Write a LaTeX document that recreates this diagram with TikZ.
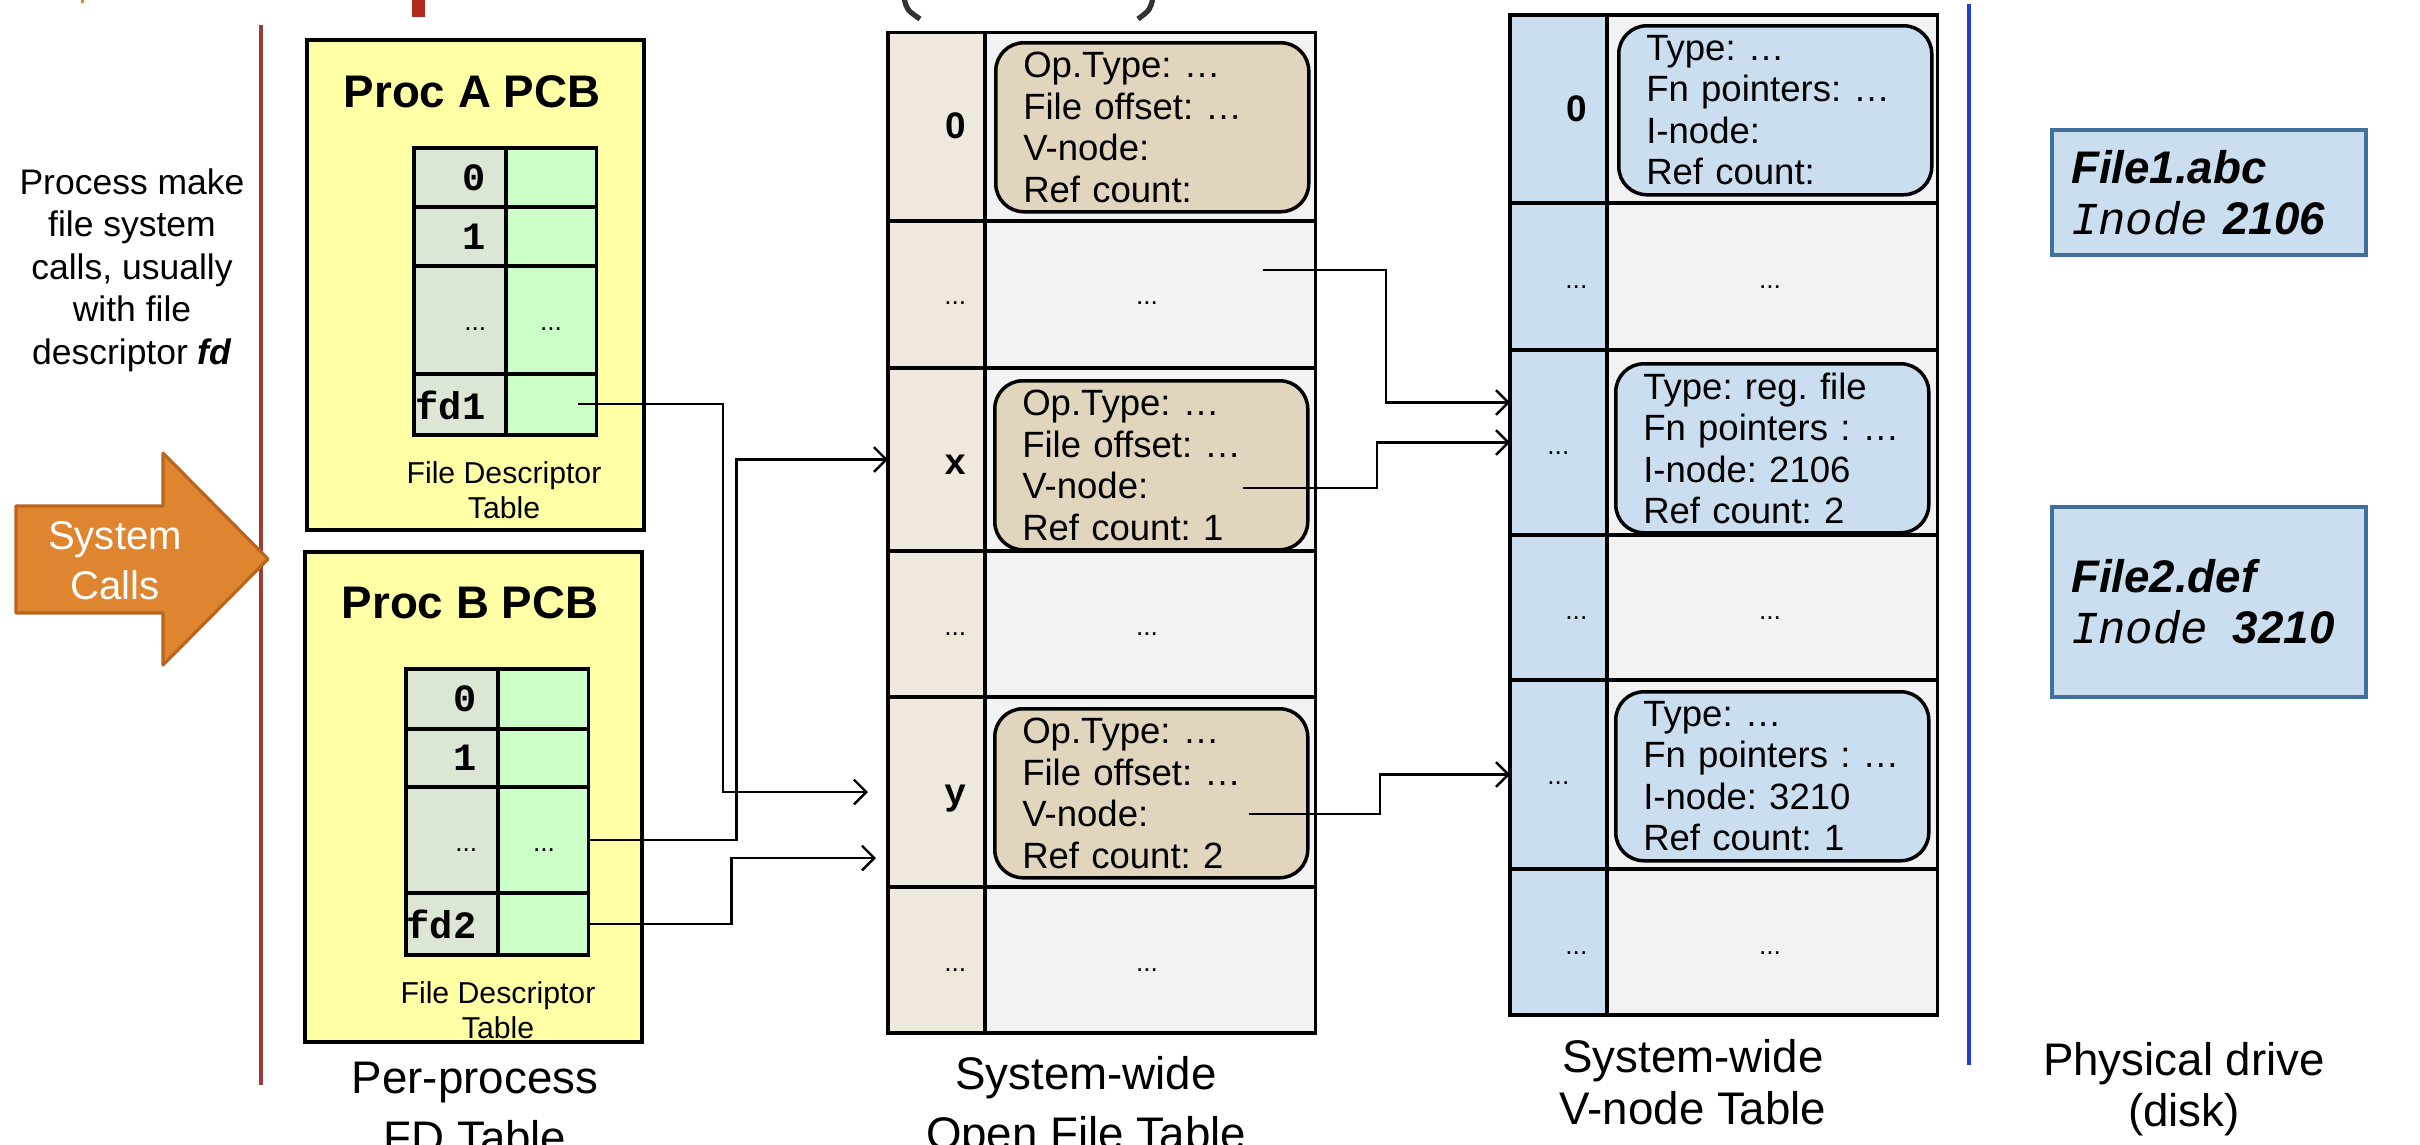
\documentclass[tikz,border=0pt]{standalone}
\usepackage{fontspec}
\setmainfont{Liberation Sans}
\newfontfamily\codefont{Liberation Mono}
\usetikzlibrary{arrows.meta}

\definecolor{pcbyellow}{HTML}{FFFFA6}
\definecolor{fdgrey}{HTML}{DCE6D4}
\definecolor{fdgreen}{HTML}{CCFFC8}
\definecolor{oftbeige}{HTML}{EFE8DC}
\definecolor{cellgrey}{HTML}{F2F2F2}
\definecolor{entrytan}{HTML}{E1D5BE}
\definecolor{vblue}{HTML}{CADEEF}
\definecolor{fileborder}{HTML}{41709C}
\definecolor{callorange}{HTML}{E0852F}
\definecolor{calledge}{HTML}{B8651E}
\definecolor{redline}{HTML}{A0393A}
\definecolor{redbar}{HTML}{B22A1E}
\definecolor{blueline}{HTML}{1E3ED6}
\definecolor{parengrey}{HTML}{333333}

\frenchspacing

\begin{document}
\begin{tikzpicture}[x=0.1mm, y=-0.1mm,
    tcell/.style={draw, line width=1.1pt, anchor=north west, inner sep=0pt, outer sep=0pt},
    fdidx/.style={tcell, fill=fdgrey, minimum width=9.2mm},
    fdval/.style={tcell, fill=fdgreen, minimum width=9.05mm},
    oftidx/.style={tcell, fill=oftbeige, minimum width=9.7mm},
    vidx/.style={tcell, fill=vblue, minimum width=9.7mm},
    tval/.style={tcell, fill=cellgrey, minimum width=33.05mm},
    entry/.style={draw, line width=1pt, rounded corners=8pt, anchor=north west, inner sep=0pt,
      minimum width=31.3mm, minimum height=16.9mm, text width=25.8mm, align=left,
      font=\fontsize{10.4}{11.8}\selectfont},
    pcb/.style={draw, line width=1pt, fill=pcbyellow, anchor=north west, inner sep=0pt,
      minimum width=33.7mm, minimum height=49mm},
    pcbtitle/.style={font=\bfseries\fontsize{13}{15}\selectfont},
    fdnum/.style={anchor=east, inner sep=0pt, font=\codefont\bfseries\fontsize{11}{13}\selectfont},
    tnum/.style={anchor=east, inner sep=0pt, font=\bfseries\fontsize{10.5}{12}\selectfont},
    tletter/.style={anchor=east, inner sep=0pt, font=\codefont\bfseries\fontsize{10.5}{12}\selectfont},
    dots/.style={inner sep=0pt, font=\fontsize{7.5}{9}\selectfont},
    fdnote/.style={align=center, inner sep=0pt, font=\fontsize{8.6}{10}\selectfont},
    tabcap/.style={align=center, inner sep=0pt, font=\fontsize{13}{14.6}\selectfont},
    diskfile/.style={draw=fileborder, line width=1.2pt, fill=vblue, anchor=north west, inner sep=0pt,
      minimum width=31.4mm, text width=27.6mm, align=left, font=\fontsize{13}{14.5}\selectfont},
    callarrow/.style={fill=callorange, draw=calledge, line width=0.9pt, line join=round},
    link/.style={line width=0.7pt, -{Straight Barb[length=3.5pt,width=7pt]}}]

    \useasboundingbox (0,0) rectangle (2420,1144);

    \fill[callorange] (81,0) rectangle (84,2.5);
    \fill[redbar] (412,0) rectangle (425,17);
    \draw[parengrey, line width=1.5pt] (904,-2) .. controls (907,10) .. (920,19);
    \draw[parengrey, line width=1.5pt] (1153,-2) .. controls (1150,10) .. (1138,19);

    \draw[redline, line width=1.2pt] (261,25) -- (261,1085);
    \draw[blueline, line width=1.1pt] (1969,4) -- (1969,1065);

    \node[align=center, inner sep=0pt, font=\fontsize{10.1}{12.1}\selectfont] (procnote) at (132,270)
      {Process make\\file system\\calls, usually\\with file\\descriptor \textbf{\textit{fd}}};

    \filldraw[callarrow] (16,506) -- (163,506) -- (163,453) -- (268,559) -- (163,665) -- (163,613) -- (16,613) -- cycle;
    \node[align=center, text=white, inner sep=0pt, font=\fontsize{11.4}{14.2}\selectfont] (calls) at (115,561) {System\\Calls};

    \node[pcb] (pcbA) at (305,38) {};
    \node[pcb] (pcbB) at (303,550) {};
    \node[pcbtitle] (titleA) at (472,92) {Proc A PCB};
    \node[pcbtitle] (titleB) at (470,603) {Proc B PCB};

    \node[fdidx, minimum height=5.9mm] (fa0) at (414,148) {};
    \node[fdval, minimum height=5.9mm] (fa0v) at (506,148) {};
    \node[fdidx, minimum height=5.9mm] (fa1) at (414,207) {};
    \node[fdval, minimum height=5.9mm] (fa1v) at (506,207) {};
    \node[fdidx, minimum height=10.8mm] (fa2) at (414,266) {};
    \node[fdval, minimum height=10.8mm] (fa2v) at (506,266) {};
    \node[fdidx, minimum height=6.1mm] (fa3) at (414,374) {};
    \node[fdval, minimum height=6.1mm] (fa3v) at (506,374) {};

    \node[fdnum] (na0) at (486,178) {0};
    \node[fdnum] (na1) at (486,237) {1};
    \node[dots, anchor=east] (na2) at (487,329) {...};
    \node[dots] (na2v) at (551,329) {...};
    \node[fdnum] (na3) at (486,405) {fd1};
    \node[fdnote] (notea) at (504,490) {File Descriptor\\Table};

    \node[fdidx, minimum height=6.0mm] (fb0) at (406,669) {};
    \node[fdval, minimum height=6.0mm] (fb0v) at (498,669) {};
    \node[fdidx, minimum height=5.8mm] (fb1) at (406,729) {};
    \node[fdval, minimum height=5.8mm] (fb1v) at (498,729) {};
    \node[fdidx, minimum height=10.6mm] (fb2) at (406,787) {};
    \node[fdval, minimum height=10.6mm] (fb2v) at (498,787) {};
    \node[fdidx, minimum height=6.2mm] (fb3) at (406,893) {};
    \node[fdval, minimum height=6.2mm] (fb3v) at (498,893) {};

    \node[fdnum] (nb0) at (477,699) {0};
    \node[fdnum] (nb1) at (477,758) {1};
    \node[dots, anchor=east] (nb2) at (478,850) {...};
    \node[dots] (nb2v) at (544,850) {...};
    \node[fdnum] (nb3) at (477,924) {fd2};
    \node[fdnote] (noteb) at (498,1010) {File Descriptor\\Table};

    \node[tabcap, font=\fontsize{13}{17}\selectfont] (capfd) at (475,1108) {Per-process\\FD Table};

    \node[oftidx, minimum height=18.85mm] (o0) at (888,32.5) {};
    \node[tval, minimum height=18.85mm] (o0c) at (985,32.5) {};
    \node[oftidx, minimum height=14.7mm] (o1) at (888,221) {};
    \node[tval, minimum height=14.7mm] (o1c) at (985,221) {};
    \node[oftidx, minimum height=18.3mm] (o2) at (888,368) {};
    \node[tval, minimum height=18.3mm] (o2c) at (985,368) {};
    \node[oftidx, minimum height=14.6mm] (o3) at (888,551) {};
    \node[tval, minimum height=14.6mm] (o3c) at (985,551) {};
    \node[oftidx, minimum height=19.0mm] (o4) at (888,697) {};
    \node[tval, minimum height=19.0mm] (o4c) at (985,697) {};
    \node[oftidx, minimum height=14.6mm] (o5) at (888,887) {};
    \node[tval, minimum height=14.6mm] (o5c) at (985,887) {};

    \node[entry, fill=entrytan] (e0) at (994,41) {Op.Type: …\\File offset: …\\V-node:\\Ref count:};
    \node[entry, fill=entrytan] (ex) at (993,379) {Op.Type: …\\File offset: …\\V-node:\\Ref count: 1};
    \node[entry, fill=entrytan] (ey) at (993,707) {Op.Type: …\\File offset: …\\V-node:\\Ref count: 2};

    \node[tnum] (no0) at (967,126) {0};
    \node[dots, anchor=east] (no1) at (967,303) {...};
    \node[dots] (no1c) at (1147,303) {...};
    \node[tletter] (nox) at (967,465) {x};
    \node[dots, anchor=east] (no3) at (967,634) {...};
    \node[dots] (no3c) at (1147,634) {...};
    \node[tletter] (noy) at (967,799) {y};
    \node[dots, anchor=east] (no5) at (967,970) {...};
    \node[dots] (no5c) at (1147,970) {...};

    \node[tabcap, font=\fontsize{13}{17}\selectfont] (capoft) at (1086,1108) {System-wide\\Open File Table};

    \node[vidx, minimum height=18.8mm] (v0) at (1510,15) {};
    \node[tval, minimum height=18.8mm] (v0c) at (1607,15) {};
    \node[vidx, minimum height=14.7mm] (v1) at (1510,203) {};
    \node[tval, minimum height=14.7mm] (v1c) at (1607,203) {};
    \node[vidx, minimum height=18.5mm] (v2) at (1510,350) {};
    \node[tval, minimum height=18.5mm] (v2c) at (1607,350) {};
    \node[vidx, minimum height=14.5mm] (v3) at (1510,535) {};
    \node[tval, minimum height=14.5mm] (v3c) at (1607,535) {};
    \node[vidx, minimum height=18.9mm] (v4) at (1510,680) {};
    \node[tval, minimum height=18.9mm] (v4c) at (1607,680) {};
    \node[vidx, minimum height=14.6mm] (v5) at (1510,869) {};
    \node[tval, minimum height=14.6mm] (v5c) at (1607,869) {};

    \node[entry, fill=vblue] (n0) at (1617,24) {Type: …\\Fn pointers: …\\I-node:\\Ref count:};
    \node[entry, fill=vblue] (n2) at (1614,362) {Type: reg. file\\Fn pointers : …\\I-node: 2106\\Ref count: 2};
    \node[entry, fill=vblue] (n4) at (1614,690) {Type: …\\Fn pointers : …\\I-node: 3210\\Ref count: 1};

    \node[tnum] (nv0) at (1588,109) {0};
    \node[dots, anchor=east] (nv1) at (1588,287) {...};
    \node[dots] (nv1c) at (1770,287) {...};
    \node[dots, anchor=east] (nv2) at (1570,453) {...};
    \node[dots, anchor=east] (nv3) at (1588,618) {...};
    \node[dots] (nv3c) at (1770,618) {...};
    \node[dots, anchor=east] (nv4) at (1570,783) {...};
    \node[dots, anchor=east] (nv5) at (1588,953) {...};
    \node[dots] (nv5c) at (1770,953) {...};

    \node[tabcap] (capv) at (1693,1082) {System-wide\\V-node Table};

    \node[diskfile, minimum height=12.5mm] (file1) at (2050,128)
      {\textbf{\textit{File1.abc}}\\{\codefont\itshape Inode} \textbf{\textit{2106}}};
    \node[diskfile, minimum height=19mm] (file2) at (2050,505)
      {\textbf{\textit{File2.def}}\\{\codefont\itshape Inode}\hspace{7pt}\textbf{\textit{3210}}};

    \node[tabcap] (capdisk) at (2184,1089) {Physical drive\\(disk)};

    \coordinate (sfd1) at (578,404);
    \coordinate (so1) at (1263,270);
    \coordinate (sox) at (1243,488);
    \coordinate (soy) at (1249,814);

    \draw[link] (sfd1) -- ++(145,0) |- ([xshift=-2mm]o4.west);
    \draw[link] (fb2v.east) -- ++(148,0) |- (o2.west);
    \draw[link] (fb3v.east) -- ++(143,0) |- ([xshift=-1.2mm,yshift=-6.6mm]o4.west);

    \draw[link] (so1) -- ++(123,0) |- ([yshift=4mm]v2.west);
    \draw[link] (sox) -- ++(134,0) |- (v2.west);
    \draw[link] (soy) -- ++(131,0) |- (v4.west);

  \end{tikzpicture}
\end{document}
